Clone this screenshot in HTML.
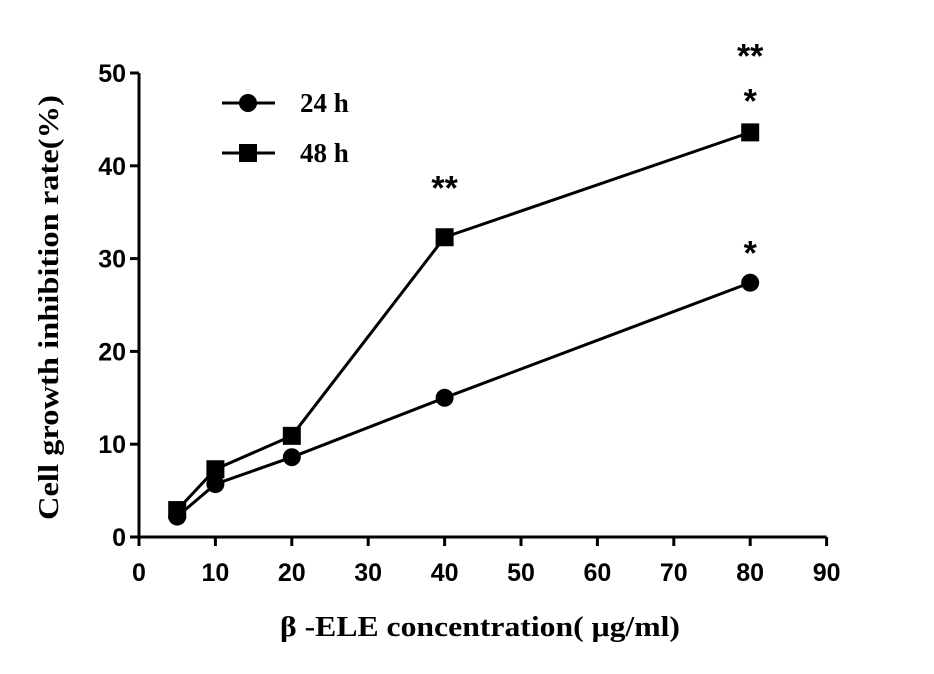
<!DOCTYPE html>
<html><head><meta charset="utf-8"><style>
html,body{margin:0;padding:0;background:#fff;width:934px;height:674px;overflow:hidden}
</style></head><body>
<svg id="chart" width="934" height="674" xmlns="http://www.w3.org/2000/svg"></svg>
<script>
const xTicks=[0,10,20,30,40,50,60,70,80,90];
const yTicks=[0,10,20,30,40,50];
const concentrations=[5,10,20,40,80];
const series24=[2.2,5.7,8.6,15.0,27.4];
const series48=[2.9,7.3,10.9,32.3,43.6];
const annotations=[{x:40,y:32.3,text:"**",dy:-68},{x:80,y:43.6,text:"*",dy:-50},{x:80,y:43.6,text:"**",dy:-95},{x:80,y:27.4,text:"*",dy:-48}];
const X0=139,XS=7.64,Y0=537,YS=9.28;
const sx=v=>X0+v*XS, sy=v=>Y0-v*YS;
const svg=document.getElementById('chart');
const NS="http://www.w3.org/2000/svg";
function mk(t,a,p){const e=document.createElementNS(NS,t);for(const k in a)e.setAttribute(k,a[k]);(p||svg).appendChild(e);return e;}
let ax=mk('line',{x1:X0,y1:sy(50),x2:X0,y2:Y0+2,stroke:'#000','stroke-width':3});


let axx=mk('line',{x1:X0-2,y1:Y0,x2:sx(90),y2:Y0,stroke:'#000','stroke-width':3});


xTicks.forEach(v=>{
 mk('line',{x1:sx(v),y1:Y0,x2:sx(v),y2:Y0+9,stroke:'#000','stroke-width':3});
 const t=mk('text',{x:sx(v),y:Y0+44,'text-anchor':'middle','font-family':'Liberation Sans, sans-serif','font-weight':'bold','font-size':25});
 t.textContent=v;
 
 
});
yTicks.forEach(v=>{
 mk('line',{x1:X0-9,y1:sy(v),x2:X0,y2:sy(v),stroke:'#000','stroke-width':3});
 const t=mk('text',{x:X0-13,y:sy(v)+9,'text-anchor':'end','font-family':'Liberation Sans, sans-serif','font-weight':'bold','font-size':25});
 t.textContent=v;
 
 
});
function drawSeries(vals,shape,name){
 const g=mk('g',{});
 
 
 mk('polyline',{points:concentrations.map((c,i)=>sx(c)+','+sy(vals[i])).join(' '),fill:'none',stroke:'#000','stroke-width':3},g);
 concentrations.forEach((c,i)=>{
  let m;
  if(shape==='circle') m=mk('circle',{cx:sx(c),cy:sy(vals[i]),r:9,fill:'#000'},g);
  else m=mk('rect',{x:sx(c)-9,y:sy(vals[i])-9,width:18,height:18,fill:'#000'},g);
  
  
 });
}
drawSeries(series48,'square','series-48h');
drawSeries(series24,'circle','series-24h');
annotations.forEach(a=>{
 const t=mk('text',{x:sx(a.x),y:sy(a.y)+a.dy+30,'text-anchor':'middle','font-family':'Liberation Sans, sans-serif','font-weight':'bold','font-size':34});
 t.textContent=a.text;
 
 
});
const lg=mk('g',{});


mk('line',{x1:222,y1:103,x2:275,y2:103,stroke:'#000','stroke-width':3},lg);
mk('circle',{cx:248,cy:103,r:9,fill:'#000'},lg);
let l1=mk('text',{x:300,y:112,'font-family':'Liberation Serif, serif','font-weight':'bold','font-size':27},lg);l1.textContent='24 h';
mk('line',{x1:222,y1:153,x2:275,y2:153,stroke:'#000','stroke-width':3},lg);
mk('rect',{x:239,y:144,width:18,height:18,fill:'#000'},lg);
let l2=mk('text',{x:300,y:162,'font-family':'Liberation Serif, serif','font-weight':'bold','font-size':27},lg);l2.textContent='48 h';
const xt=mk('text',{x:280,y:636,'font-family':'Liberation Serif, serif','font-weight':'bold','font-size':28,textLength:400,lengthAdjust:'spacingAndGlyphs'});
xt.textContent='β -ELE concentration( μg/ml)';


const yt=mk('text',{x:0,y:0,'font-family':'Liberation Serif, serif','font-weight':'bold','font-size':28,textLength:425,lengthAdjust:'spacingAndGlyphs',transform:'translate(58,520) rotate(-90)'});
yt.textContent='Cell growth inhibition rate(%)';


</script>
</body></html>
